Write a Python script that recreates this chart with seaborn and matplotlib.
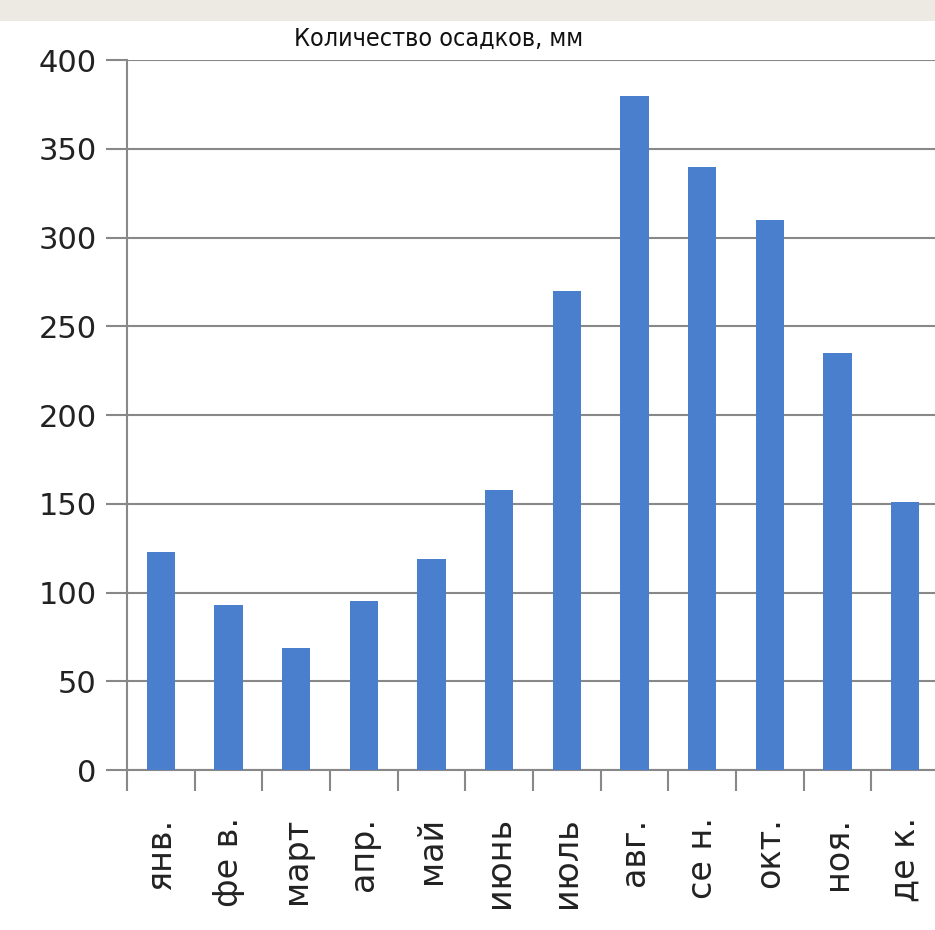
import matplotlib
matplotlib.use("Agg")
import matplotlib.pyplot as plt
from matplotlib.patches import Rectangle
import seaborn as sns
import pandas as pd
import numpy as np

months = ["янв.", "фе в.", "март", "апр.", "май", "июнь", "июль", "авг.", "се н.", "окт.", "ноя.", "де к."]
precip = [123, 93, 69, 95, 119, 158, 270, 380, 340, 310, 235, 151]
yticks = [0, 50, 100, 150, 200, 250, 300, 350, 400]
title = "Количество осадков, мм"

BAR = "#4A7FCD"
GRID = "#888888"

sns.set_theme(style="white")
plt.rcParams["font.family"] = ["DejaVu Sans"]

df = pd.DataFrame({"month": months, "mm": precip})

fig = plt.figure(figsize=(9.35, 9.30), dpi=100)
fig.patch.set_facecolor("white")
# beige strip at the very top
fig.add_artist(Rectangle((0, 0.977), 1, 0.023, transform=fig.transFigure,
                         facecolor="#EDEAE3", edgecolor="none", zorder=0))

ax = fig.add_axes([0.1358, 0.172, 0.8685, 0.7634])
sns.barplot(data=df, x="month", y="mm", color=BAR, width=0.42, saturation=1,
            linewidth=0, ax=ax, zorder=3)
ax.set_xlim(-0.5, 11.5)
ax.set_ylim(0, 400)
ax.set_yticks(yticks)
ax.set_yticklabels([str(v) for v in yticks], fontsize=22, color="#222222")
ax.set_xticks(range(len(months)))
ax.set_xticklabels(months, rotation=90, fontsize=24, color="#222222", va="top")
ax.set_xticks(np.arange(-0.5, 12, 1), minor=True)
ax.tick_params(axis="x", which="major", bottom=True, length=0, pad=34)
ax.tick_params(axis="x", which="minor", bottom=True, length=15, width=1.5,
               color=GRID, direction="out")
ax.tick_params(axis="y", which="major", left=True, length=15, width=1.5,
               color=GRID, direction="out", pad=7)
ax.yaxis.grid(True, color=GRID, linewidth=1.5, zorder=0)
ax.xaxis.grid(False)
for side in ["top", "right"]:
    ax.spines[side].set_visible(False)
for side in ["left", "bottom"]:
    ax.spines[side].set_color(GRID)
    ax.spines[side].set_linewidth(1.5)
ax.set_xlabel("")
ax.set_ylabel("")

fig.text(0.469, 0.958, title, ha="center", va="center", fontsize=18,
         fontstretch="condensed", family=["DejaVu Sans"], color="#111111")

fig.savefig("out.png", dpi=100)
